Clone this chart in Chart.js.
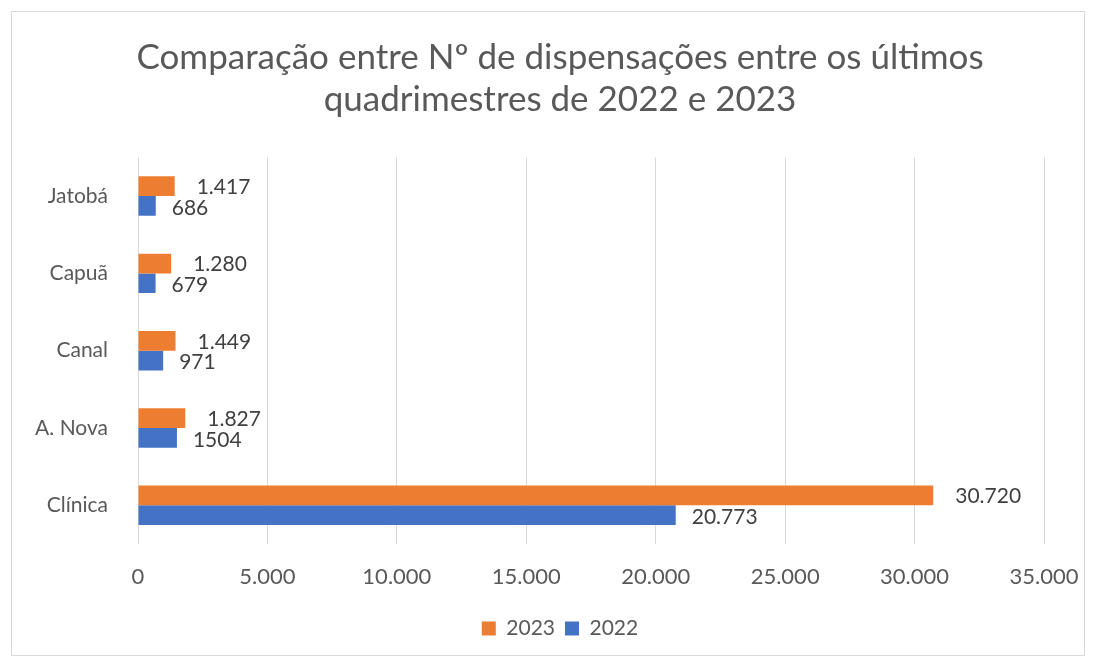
<!DOCTYPE html>
<html>
<head>
<meta charset="utf-8">
<script src="https://cdn.jsdelivr.net/npm/chart.js@4"></script>
<style>
  html, body { margin: 0; padding: 0; background: #fff; overflow: hidden; }
  #box {
    position: absolute; left: 11px; top: 11px;
    width: 1074px; height: 645px;
    box-sizing: border-box; border: 1px solid #d9d9d9;
  }
  /* canvas a bit wider than the frame so title/legend centre lands where Excel put it */
  #chart { position: absolute; left: 12px; top: 12px; display: block; }
</style>
</head>
<body>
<div id="box"></div>
<canvas id="chart" width="1096" height="643"></canvas>
<script>
// --- data ---
const CATEGORIES  = ['Jatobá', 'Capuã', 'Canal', 'A. Nova', 'Clínica'];
const SERIES_2023 = [1417, 1280, 1449, 1827, 30720];
const SERIES_2022 = [686, 679, 971, 1504, 20773];
const LABELS_2023 = ['1.417', '1.280', '1.449', '1.827', '30.720'];
const LABELS_2022 = ['686', '679', '971', '1504', '20.773'];
const X_TICKS     = [0, 5000, 10000, 15000, 20000, 25000, 30000, 35000];
const TITLE_LINES = ['Comparação entre Nº de dispensações entre os últimos', 'quadrimestres de 2022 e 2023'];

const FONT = 'Lato, "Open Sans", sans-serif';
const GREY = '#595959';

// pt-BR style thousands: 5000 -> "5.000"
const fmt = v => String(v).replace(/\B(?=(\d{3})+(?!\d))/g, '.');

// value labels at the bar ends, like Excel's "outside end"
const barLabels = {
  id: 'barLabels',
  afterDatasetsDraw(chart) {
    const ctx = chart.ctx;
    ctx.save();
    ctx.font = `21px ${FONT}`;
    ctx.fillStyle = '#404040';
    ctx.textAlign = 'left';
    ctx.textBaseline = 'middle';
    chart.data.datasets.forEach((ds, i) => {
      const meta = chart.getDatasetMeta(i);
      const dx = i === 0 ? 22 : 16;
      const dy = i === 0 ? 1 : 2;
      meta.data.forEach((bar, j) => {
        ctx.fillText(ds.valueLabels[j], bar.x + dx, bar.y + dy);
      });
    });
    ctx.restore();
  }
};

new Chart(document.getElementById('chart'), {
  type: 'bar',
  data: {
    labels: CATEGORIES,
    datasets: [
      { label: '2023', data: SERIES_2023, valueLabels: LABELS_2023, backgroundColor: '#ED7D31' },
      { label: '2022', data: SERIES_2022, valueLabels: LABELS_2022, backgroundColor: '#4472C4' },
    ],
  },
  options: {
    indexAxis: 'y',
    responsive: false,
    animation: false,
    categoryPercentage: 0.51,
    barPercentage: 1,
    layout: { padding: { left: 0, right: 0, top: 0, bottom: 6 } },
    plugins: {
      title: {
        display: true,
        text: TITLE_LINES,
        color: GREY,
        font: { family: FONT, size: 35, weight: 'normal', lineHeight: 1.22 },
        padding: { top: 24, bottom: 36 },
      },
      legend: {
        position: 'bottom',
        labels: {
          color: GREY,
          font: { family: FONT, size: 21 },
          boxWidth: 14, boxHeight: 14,
          padding: 10,
        },
      },
      tooltip: { enabled: false },
    },
    scales: {
      x: {
        min: 0, max: 35000,
        afterBuildTicks: s => { s.ticks = X_TICKS.map(v => ({ value: v })); },
        // right gap of the plot comes from the x scale only, so title/legend stay centred on the canvas
        afterFit: s => { s.height = 64; s.paddingRight = 64; },
        ticks: { color: GREY, font: { family: FONT, size: 22 }, padding: 20, callback: v => fmt(v) },
        grid: { color: '#d9d9d9', drawTicks: false },
        border: { display: false },
      },
      y: {
        afterFit: s => { s.width = 126; },
        ticks: { color: GREY, font: { family: FONT, size: 21 }, padding: 30 },
        grid: { display: false, drawTicks: false },
        border: { display: false },
      },
    },
  },
  plugins: [barLabels],
});
</script>
</body>
</html>
